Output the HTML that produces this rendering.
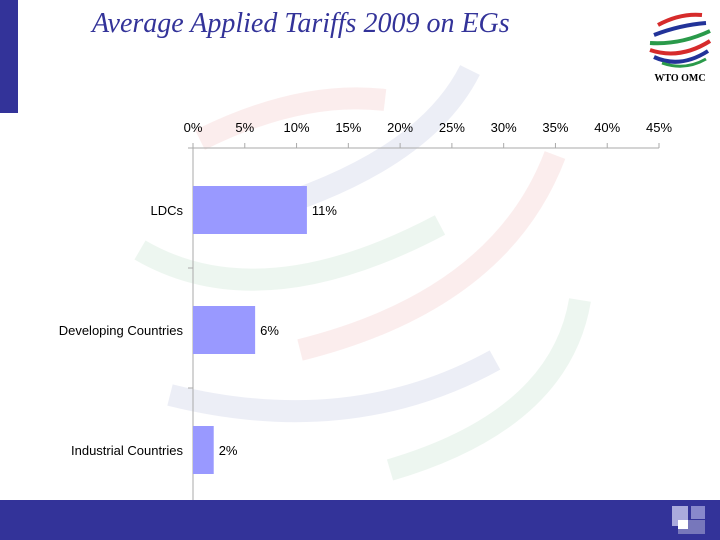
<!DOCTYPE html>
<html><head><meta charset="utf-8"><style>
html,body{margin:0;padding:0}
body{width:720px;height:540px;position:relative;overflow:hidden;background:#fff;font-family:"Liberation Sans",sans-serif}
</style></head><body>
<div style="position:absolute;left:0;top:0;width:18px;height:113px;background:#333399"></div>
<div style="position:absolute;left:92px;top:8px;font-family:'Liberation Serif',serif;font-style:italic;font-size:28px;color:#333399">Average Applied Tariffs 2009 on EGs</div>
<svg style="position:absolute;left:640px;top:5px" width="80" height="80">
<path d="M18 20 Q40 8 62 10" stroke="#d62b2b" stroke-width="4" fill="none"/>
<path d="M14 30 Q40 20 66 18" stroke="#223399" stroke-width="4" fill="none"/>
<path d="M10 38 Q40 40 70 26" stroke="#2a9a4a" stroke-width="4" fill="none"/>
<path d="M10 45 Q40 55 70 36" stroke="#d62b2b" stroke-width="4" fill="none"/>
<path d="M14 52 Q40 64 68 46" stroke="#223399" stroke-width="4" fill="none"/>
<path d="M22 58 Q45 66 66 54" stroke="#2a9a4a" stroke-width="3" fill="none"/>
<text x="40" y="76" text-anchor="middle" font-family="Liberation Serif,serif" font-size="10" font-weight="bold" fill="#000">WTO OMC</text>
</svg>
<svg id="chart" style="position:absolute;left:0;top:0" width="720" height="540">
<g fill="none" stroke-width="22" opacity="0.08">
<path d="M200 140 Q300 90 385 100" stroke="#d62b2b"/>
<path d="M230 220 Q420 170 470 70" stroke="#223399"/>
<path d="M140 250 Q260 320 440 225" stroke="#2a9a4a"/>
<path d="M300 350 Q500 300 555 155" stroke="#d62b2b"/>
<path d="M170 395 Q350 440 495 360" stroke="#223399"/>
<path d="M390 470 Q560 420 580 300" stroke="#2a9a4a"/>
</g>
</svg>
<div style="position:absolute;left:0;top:500px;width:720px;height:40px;background:#333399"></div>
<svg style="position:absolute;left:672px;top:504px" width="40" height="32">
<rect x="0" y="2" width="16" height="20" fill="#aaaadd"/>
<rect x="19" y="2" width="14" height="13" fill="#8888cc"/>
<rect x="6" y="16" width="27" height="14" fill="#7777bb"/>
<rect x="6" y="16" width="10" height="9" fill="#fff"/>
</svg>
<script>
const categories=["LDCs","Developing Countries","Industrial Countries"];
const values=[11,6,2];
const valueLabels=["11%","6%","2%"];
const ticks=[0,5,10,15,20,25,30,35,40,45];
const svg=document.getElementById('chart');
const NS='http://www.w3.org/2000/svg';
const x=v=>193+v*(466/45);
const y0=148, band=120;
const y=i=>y0+i*band;
function mk(t,a){const e=document.createElementNS(NS,t);for(const k in a)e.setAttribute(k,a[k]);svg.appendChild(e);return e;}
let ax=mk('line',{x1:193,y1:148,x2:659,y2:148,stroke:'#aaa'});


let ay=mk('line',{x1:193,y1:148,x2:193,y2:510,stroke:'#aaa'});


ticks.forEach(t=>{
 const l=mk('line',{x1:x(t),y1:143,x2:x(t),y2:148,stroke:'#aaa'});
 
 
 const tx=mk('text',{x:x(t),y:132,'text-anchor':'middle','font-size':13,fill:'#000'});
 tx.textContent=t+'%';
 
 
});
for(let i=0;i<=3;i++){
 const l=mk('line',{x1:188,y1:y(i),x2:193,y2:y(i),stroke:'#aaa'});
 
 
}
categories.forEach((c,i)=>{
 const top=y(i)+38;
 const r=mk('rect',{x:193,y:top,width:x(values[i])-193,height:48,fill:'#9999ff'});
 
 
 const lb=mk('text',{x:183,y:top+29,'text-anchor':'end','font-size':13,fill:'#000'});
 lb.textContent=c;
 
 
 const vl=mk('text',{x:x(values[i])+5,y:top+29,'font-size':13,fill:'#000'});
 vl.textContent=valueLabels[i];
 
 
});
</script>
</body></html>
